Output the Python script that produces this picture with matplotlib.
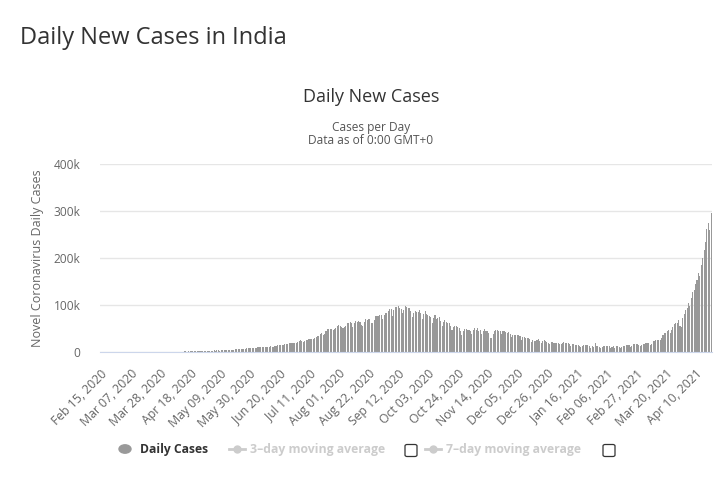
import datetime as dt
import numpy as np
import matplotlib
matplotlib.use('Agg')
import matplotlib.pyplot as plt
from matplotlib.lines import Line2D
from matplotlib.patches import FancyBboxPatch, Circle

plt.rcParams['font.family'] = ['Open Sans', 'DejaVu Sans']

# daily new cases, one list per month (Feb 15 2020 .. Apr 21 2021)
feb_2020 = [0] * 15
mar_2020 = [0, 2, 1, 22, 2, 1, 3, 5, 4, 6, 11, 6, 9, 20, 11, 6, 23, 14, 38, 50,
            86, 66, 103, 37, 121, 70, 160, 100, 112, 227, 146]
apr_2020 = [601, 545, 478, 515, 505, 704, 508, 485, 591, 896, 768, 918, 796, 1463, 1076,
            1007, 1296, 1076, 1334, 1553, 1336, 1383, 1409, 1684, 1429, 1990, 1396, 1543, 1813, 1718]
may_2020 = [1993, 2293, 2644, 2573, 3932, 2963, 3587, 3344, 3113, 4353, 4213, 3604, 3525,
            3722, 3967, 3970, 4987, 5242, 4970, 5611, 5609, 6088, 6654, 6767, 6977, 6535,
            6387, 7466, 7964, 8364, 8789]
jun_2020 = [8392, 8171, 8909, 9304, 9851, 9887, 9971, 9983, 9987, 9985, 9996, 10956, 11458,
            11929, 11502, 10667, 12881, 13586, 14516, 14933, 15413, 14821, 14933, 15968,
            16922, 17296, 18552, 19906, 19459, 18522]
jul_2020 = [18653, 19148, 20903, 22771, 24850, 24248, 22252, 22752, 24879, 26506, 27114,
            28637, 28701, 28498, 29429, 32695, 34956, 34884, 38902, 40425, 37148, 37724,
            45720, 49310, 48916, 48661, 49931, 47703, 48513, 52123, 55078]
aug_2020 = [57118, 54735, 52972, 52050, 52509, 56282, 62538, 61537, 64399, 62064, 53601,
            60963, 66999, 64553, 65002, 63490, 57981, 55079, 64531, 69652, 68898, 69878,
            69239, 61408, 60975, 67151, 75760, 77266, 76472, 78761, 78512]
sep_2020 = [69921, 78357, 83883, 83341, 86432, 90632, 90802, 75809, 89706, 95735, 96551,
            97570, 94372, 92071, 83809, 90123, 97894, 96424, 93337, 92605, 86961, 75083,
            83347, 86508, 86052, 85362, 88600, 82170, 70589, 80472]
oct_2020 = [86821, 81484, 79476, 75829, 74442, 61267, 72049, 78524, 70496, 73272, 74383,
            66732, 55342, 63509, 67708, 63371, 62212, 61871, 55722, 46790, 54044, 55839,
            54366, 53370, 50129, 45148, 36469, 43893, 49881, 48648, 46963]
nov_2020 = [46964, 45231, 38310, 46253, 50210, 47638, 50356, 45674, 45903, 38074, 44281,
            47905, 44879, 44684, 41100, 30548, 29163, 38617, 45576, 45882, 46232, 45209,
            44059, 37975, 44376, 44489, 43082, 41322, 41810, 38772]
dec_2020 = [31118, 36604, 35551, 36594, 36652, 36011, 32981, 26567, 32080, 31522, 29398,
            30006, 30254, 27071, 22065, 26382, 24010, 22890, 25153, 26624, 24337, 19556,
            23950, 24712, 23068, 22273, 18732, 16432, 20550, 21822, 20035]
jan_2021 = [19079, 18177, 18088, 16504, 16375, 18088, 20346, 18139, 18222, 18645, 16311,
            12584, 15968, 16946, 15590, 15158, 15144, 13788, 10064, 13823, 15223, 14545,
            14256, 14849, 13203, 9102, 12689, 11666, 18855, 13083, 13052]
feb_2021 = [11427, 8635, 11039, 12899, 12408, 11713, 12059, 11831, 9110, 11067, 12923, 9309,
            12143, 12194, 11649, 9121, 11610, 12881, 13193, 13993, 14264, 14199, 10584,
            13742, 16738, 16577, 16488, 16752]
mar_2021 = [15510, 12286, 14989, 17407, 16838, 18327, 18711, 18599, 15388, 17921, 22854,
            23285, 24882, 25320, 26291, 24492, 28903, 35871, 39726, 40953, 43846, 46951,
            40715, 47262, 53476, 59118, 62258, 62714, 68020, 56211, 53480]
apr_2021 = [72330, 81466, 89129, 93249, 103558, 96982, 115736, 126789, 131968, 145384,
            152879, 168912, 161736, 184372, 200739, 217353, 234692, 261500, 273810,
            259170, 295041]

cases = (feb_2020 + mar_2020 + apr_2020 + may_2020 + jun_2020 + jul_2020 + aug_2020 +
         sep_2020 + oct_2020 + nov_2020 + dec_2020 + jan_2021 + feb_2021 + mar_2021 + apr_2021)
start = dt.date(2020, 2, 15)
dates = [start + dt.timedelta(days=i) for i in range(len(cases))]

y_ticks = [0, 100000, 200000, 300000, 400000]
y_labels = ['0', '100k', '200k', '300k', '400k']

W, H = 721, 503
fig = plt.figure(figsize=(W / 100, H / 100), dpi=100)
ax = fig.add_axes([100 / W, 1 - 352 / H, 612 / W, (352 - 164) / H])

x = np.arange(len(cases))
ax.bar(x, cases, width=0.75, color='#999999', linewidth=0)
ax.set_xlim(-0.6, len(cases) - 0.4)
ax.set_ylim(0, 400000)

ax.set_yticks(y_ticks)
ax.set_yticklabels(y_labels)
ax.grid(axis='y', color='#e6e6e6', linewidth=1)
ax.set_axisbelow(True)
for s in ['top', 'right', 'left']:
    ax.spines[s].set_visible(False)
ax.spines['bottom'].set_color('#ccd6eb')
ax.tick_params(axis='y', length=0, labelsize=8.6, labelcolor='#666666', pad=14)

tick_idx = list(range(0, len(cases), 21))
ax.set_xticks(tick_idx)
ax.set_xticklabels([dates[i].strftime('%b %d, %Y') for i in tick_idx],
                   rotation=45, ha='right', rotation_mode='anchor')
ax.tick_params(axis='x', length=0, labelsize=8.8, labelcolor='#666666', pad=11)

ax.set_ylabel('Novel Coronavirus Daily Cases', fontsize=9, color='#666666', labelpad=7)

# titles
fig.text(20 / W, 1 - 38 / H, 'Daily New Cases in India', fontsize=17, color='#333333',
         va='center', ha='left')
fig.text(371 / W, 1 - 97 / H, 'Daily New Cases', fontsize=13, color='#333333',
         va='center', ha='center')
fig.text(371 / W, 1 - 127 / H, 'Cases per Day', fontsize=8.6, color='#555555',
         va='center', ha='center')
fig.text(371 / W, 1 - 141 / H, 'Data as of 0:00 GMT+0', fontsize=8.6, color='#555555',
         va='center', ha='center')

# legend
ly = 1 - 449 / H
fig.patches.append(Circle((125 / W, ly), 6 / W, transform=fig.transFigure,
                          color='#999999', figure=fig))
fig.text(140 / W, ly, 'Daily Cases', fontsize=8.7, fontweight='bold', color='#333333',
         va='center')
for x0, label, bx in [(229, '3\u2013day moving average', 411), (425, '7\u2013day moving average', 609)]:
    fig.lines.append(Line2D([x0 / W, (x0 + 16) / W], [ly, ly], transform=fig.transFigure,
                            color='#cccccc', linewidth=2))
    fig.lines.append(Line2D([(x0 + 8) / W], [ly], transform=fig.transFigure,
                            color='#cccccc', marker='o', markersize=5))
    fig.text((x0 + 21) / W, ly, label, fontsize=8.8, fontweight='bold', color='#cccccc',
             va='center')
    fig.patches.append(FancyBboxPatch(((bx - 6) / W, ly - 6 / H - 1.5 / H), 12 / W, 12 / H,
                                      boxstyle='round,pad=0,rounding_size=0.003',
                                      transform=fig.transFigure, facecolor='white',
                                      edgecolor='#333333', linewidth=0.9, figure=fig))

fig.savefig('out.png', dpi=100)
